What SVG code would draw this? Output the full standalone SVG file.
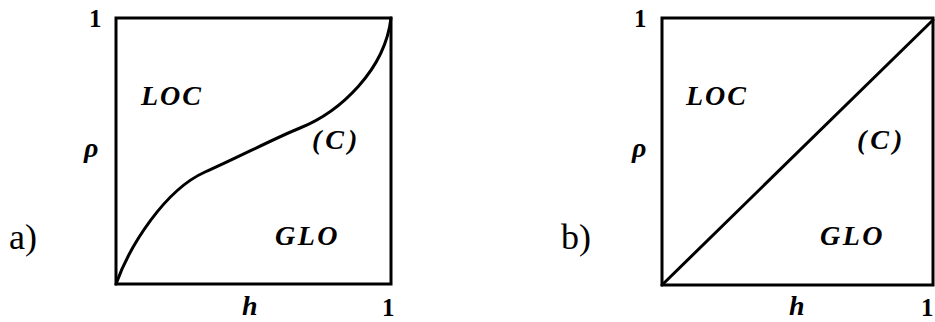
<svg xmlns="http://www.w3.org/2000/svg" width="935" height="322" viewBox="0 0 935 322">
<style>
.box{fill:none;stroke:#000;stroke-width:3}
.cv{fill:none;stroke:#000;stroke-width:3;stroke-linecap:round}
text{font-family:'Liberation Serif','Times New Roman','DejaVu Serif',serif;fill:#000}
.it{font-style:italic;font-weight:bold;font-size:28px}
.num{font-weight:bold;font-size:25px}
.lab{font-size:36px}
</style>
<rect width="935" height="322" fill="#fff"/>
<g id="panel-a">
<rect class="box" x="116" y="18" width="275" height="266"/>
<text class="num" x="89" y="27">1</text>
<text class="num" x="382" y="316">1</text>
<text class="it" x="84" y="157">ρ</text>
<text class="it" x="242" y="315" font-size="27">h</text>
<text class="it" x="141" y="105" letter-spacing="2">LOC</text>
<text class="it" x="312" y="149" letter-spacing="4">(C)</text>
<text class="it" x="275" y="245" letter-spacing="2.5">GLO</text>
<text class="lab" x="9" y="249">a)</text>
</g>
<g id="panel-b">
<rect class="box" x="662" y="18" width="271" height="267"/>
<text class="num" x="634" y="27">1</text>
<text class="num" x="921" y="316">1</text>
<text class="it" x="632" y="157">ρ</text>
<text class="it" x="789" y="315" font-size="27">h</text>
<text class="it" x="686" y="105" letter-spacing="2">LOC</text>
<text class="it" x="857" y="149" letter-spacing="4">(C)</text>
<text class="it" x="820" y="245" letter-spacing="2.5">GLO</text>
<text class="lab" x="561" y="249">b)</text>
</g>
<g id="connectors">
<path class="cv" d="M116,284 C130,245 165,190 205,172 C235,159 275,138 300,128 C340,112 385,70 391,18"/>
<path class="cv" d="M662,285 L933,20"/>
</g>
</svg>
